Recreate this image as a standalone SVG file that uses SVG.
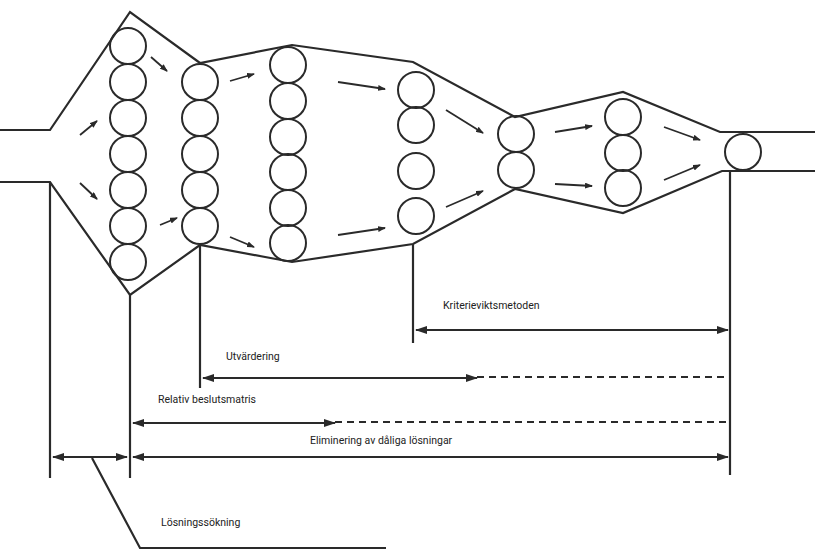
<svg xmlns="http://www.w3.org/2000/svg" width="815" height="554" viewBox="0 0 815 554">
<style>
.l{fill:none;stroke:#2a2a2a;stroke-width:2.2;stroke-linejoin:miter}
.c{fill:none;stroke:#2a2a2a;stroke-width:2}
.a{stroke:#2a2a2a;stroke-width:1.8;marker-end:url(#ah)}
.d{stroke:#2a2a2a;stroke-width:2.2}
.dd{stroke:#2a2a2a;stroke-width:2.2;stroke-dasharray:7,5}
.t{font-family:Roboto,"Liberation Sans",sans-serif;font-size:10.5px;fill:#222}
</style>
<defs>
<marker id="ah" markerWidth="8" markerHeight="6" refX="7" refY="3" orient="auto" markerUnits="userSpaceOnUse"><path d="M0,0 L8,3 L0,6z" fill="#2a2a2a"/></marker>
<marker id="ae" markerWidth="12" markerHeight="8" refX="11" refY="4" orient="auto-start-reverse" markerUnits="userSpaceOnUse"><path d="M0,0 L12,4 L0,8z" fill="#2a2a2a"/></marker>
</defs>
<rect width="815" height="554" fill="#fff"/>
<g id="hull">
<path class="l" d="M0,130 H50 L130,12 L200,63 L292,45 L413,62 L515,117 L623,92 L720,132 H815"/>
<path class="l" d="M0,182 H50 L130,295 L200,245 L292,262 L413,244 L515,189 L623,213 L722,171 H815"/>
</g>
<g id="col1" class="c"><circle cx="128" cy="46" r="18"/><circle cx="128" cy="82" r="18"/><circle cx="128" cy="118" r="18"/><circle cx="128" cy="154" r="18"/><circle cx="128" cy="190" r="18"/><circle cx="128" cy="226" r="18"/><circle cx="128" cy="262" r="18"/></g>
<g id="col2" class="c"><circle cx="200" cy="82" r="18"/><circle cx="200" cy="118" r="18"/><circle cx="200" cy="154" r="18"/><circle cx="200" cy="190" r="18"/><circle cx="200" cy="226" r="18"/></g>
<g id="col3" class="c"><circle cx="288" cy="65" r="18"/><circle cx="288" cy="101" r="18"/><circle cx="288" cy="137" r="18"/><circle cx="288" cy="172" r="18"/><circle cx="288" cy="208" r="18"/><circle cx="288" cy="243" r="18"/></g>
<g id="col4" class="c"><circle cx="416" cy="90" r="18"/><circle cx="416" cy="125" r="18"/><circle cx="416" cy="171" r="18"/><circle cx="416" cy="216" r="18"/></g>
<g id="col5" class="c"><circle cx="516" cy="134" r="18"/><circle cx="516" cy="170" r="18"/></g>
<g id="col6" class="c"><circle cx="623" cy="117" r="18"/><circle cx="623" cy="153" r="18"/><circle cx="623" cy="188" r="18"/></g>
<g id="col7" class="c"><circle cx="743" cy="152" r="18"/></g>
<g id="connectors">
<line class="a" x1="80" y1="135" x2="97" y2="121"/><line class="a" x1="80" y1="183" x2="97" y2="199"/>
<line class="a" x1="151" y1="57" x2="167" y2="71"/><line class="a" x1="160" y1="225" x2="177" y2="218"/>
<line class="a" x1="230" y1="81" x2="254" y2="74"/><line class="a" x1="230" y1="237" x2="254" y2="247"/>
<line class="a" x1="338" y1="82" x2="385" y2="89"/><line class="a" x1="338" y1="235" x2="385" y2="228"/>
<line class="a" x1="446" y1="110" x2="483" y2="133"/><line class="a" x1="446" y1="207" x2="483" y2="191"/>
<line class="a" x1="555" y1="132" x2="592" y2="126"/><line class="a" x1="555" y1="184" x2="592" y2="186"/>
<line class="a" x1="664" y1="127" x2="700" y2="140"/><line class="a" x1="664" y1="180" x2="700" y2="165"/>
<line class="d" x1="50" y1="182" x2="50" y2="478"/>
<line class="d" x1="130" y1="295" x2="130" y2="478"/>
<line class="d" x1="200" y1="245" x2="200" y2="388"/>
<line class="d" x1="413" y1="244" x2="413" y2="343"/>
<line class="d" x1="730" y1="171" x2="730" y2="475"/>
<line class="d" x1="416" y1="330" x2="728" y2="330" marker-start="url(#ae)" marker-end="url(#ae)"/>
<line class="d" x1="203" y1="378" x2="477" y2="378" marker-start="url(#ae)" marker-end="url(#ae)"/>
<line class="dd" x1="477" y1="377" x2="730" y2="377"/>
<line class="d" x1="133" y1="423" x2="335" y2="423" marker-start="url(#ae)" marker-end="url(#ae)"/>
<line class="dd" x1="335" y1="422" x2="730" y2="422"/>
<line class="d" x1="133" y1="457" x2="728" y2="457" marker-start="url(#ae)" marker-end="url(#ae)"/>
<line class="d" x1="53" y1="457" x2="127" y2="457" marker-start="url(#ae)" marker-end="url(#ae)"/>
<polyline class="l" points="92,458 140,548 386,548"/>
</g>
<g id="labels">
<text class="t" x="443" y="309">Kriterieviktsmetoden</text>
<text class="t" x="226" y="360">Utvärdering</text>
<text class="t" x="158" y="403">Relativ beslutsmatris</text>
<text class="t" x="310" y="444">Eliminering av dåliga lösningar</text>
<text class="t" x="161" y="526">Lösningssökning</text>
</g>
</svg>
